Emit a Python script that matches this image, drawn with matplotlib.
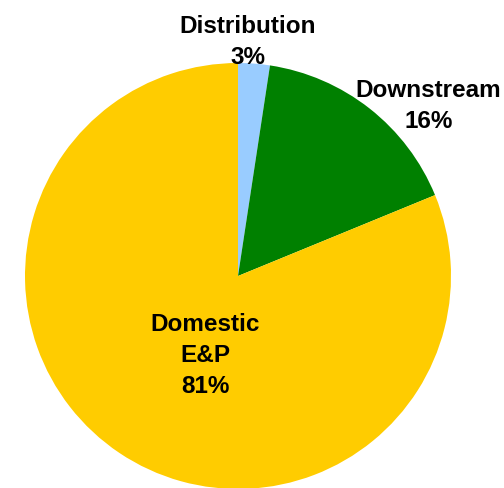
import matplotlib
matplotlib.use('Agg')
import matplotlib.pyplot as plt

# data
labels = ['Distribution', 'Downstream', 'Domestic\nE&P']
shares = [2.4, 16.4, 81.2]
pct_text = ['3%', '16%', '81%']
colors = ['#99CCFF', '#008000', '#FFCC00']

# label block centres (data units, pie radius = 1)
label_pos = [(0.045, 1.1), (0.895, 0.80), (-0.155, -0.375)]

plt.rcParams['font.family'] = ['Liberation Sans', 'DejaVu Sans']

fig = plt.figure(figsize=(5.04, 4.88), dpi=100)
ax = fig.add_axes([0, 0, 1, 1])

ax.pie(shares, colors=colors, startangle=90, counterclock=False,
       radius=1.0, center=(0, 0), wedgeprops={'linewidth': 0})

for lab, pct, (x, y) in zip(labels, pct_text, label_pos):
    ax.text(x, y, lab + '\n' + pct, ha='center', va='center',
            fontsize=17.5, fontweight='bold', linespacing=1.45, color='black')

# pie centre at pixel (238, 276), radius 213 px
r_px = 213.0
ax.set_xlim(-238 / r_px, (504 - 238) / r_px)
ax.set_ylim(-(488 - 276) / r_px, 276 / r_px)
ax.set_aspect('auto')
ax.axis('off')

fig.savefig('out.png', dpi=100)
